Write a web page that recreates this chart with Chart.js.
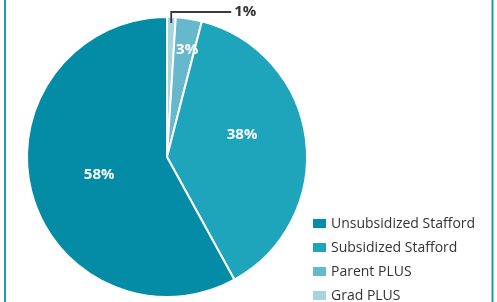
<!DOCTYPE html>
<html>
<head>
<meta charset="utf-8">
<script src="https://cdn.jsdelivr.net/npm/chart.js@4"></script>
<style>
  html, body { margin: 0; padding: 0; background: #fff; }
  #wrap { position: relative; width: 497px; height: 302px; }
</style>
</head>
<body>
<div id="wrap"><canvas id="chart-js-canvas" width="497" height="302"></canvas></div>
<script>
"use strict";

// Loan type shares, clockwise from 12 o'clock
const loanTypes = ["Grad PLUS", "Parent PLUS", "Subsidized Stafford", "Unsubsidized Stafford"];
const shares = [1, 3, 38, 58];
const sliceColors = ["#a6d4e0", "#66b8cc", "#1ea5bc", "#048ca7"];

// legend lists the types the other way round
const legendOrder = [3, 2, 1, 0];

// where each percentage sits inside its slice (radius fraction, angle fraction)
const labelRadius = [null, 0.78, 0.56, 0.5];
const labelAngle = [0.5, 0.65, 0.43, 0.5];

const frameColor = "#1a9ab5";
const textDark = "#333333";

const framePlugin = {
  id: "frame",
  beforeDraw(chart) {
    const ctx = chart.ctx;
    ctx.save();
    ctx.fillStyle = frameColor;
    ctx.fillRect(4, 0, 2, chart.height);
    ctx.fillRect(491.5, 0, 2, chart.height);
    ctx.restore();
  }
};

const labelPlugin = {
  id: "sliceLabels",
  afterDatasetsDraw(chart) {
    const ctx = chart.ctx;
    const arcs = chart.getDatasetMeta(0).data;
    ctx.save();
    ctx.font = "bold 15px 'Open Sans'";
    ctx.textAlign = "center";
    ctx.textBaseline = "middle";

    arcs.forEach((arc, i) => {
      const a = arc.startAngle + (arc.endAngle - arc.startAngle) * labelAngle[i];
      const text = shares[i] + "%";
      if (labelRadius[i] === null) {
        // small slice: leader line going out the top
        const r0 = arc.outerRadius - 6;
        const x0 = arc.x + Math.cos(a) * r0;
        const y0 = arc.y + Math.sin(a) * r0;
        ctx.strokeStyle = "#3a3a3a";
        ctx.lineWidth = 1.8;
        ctx.beginPath();
        ctx.moveTo(x0, y0);
        ctx.lineTo(x0, 12);
        ctx.lineTo(x0 + 60, 12);
        ctx.stroke();
        ctx.fillStyle = textDark;
        ctx.textAlign = "left";
        ctx.fillText(text, x0 + 63, 12);
        ctx.textAlign = "center";
      } else {
        const r = arc.outerRadius * labelRadius[i];
        ctx.fillStyle = "#ffffff";
        ctx.fillText(text, arc.x + Math.cos(a) * r, arc.y + Math.sin(a) * r);
      }
    });
    ctx.restore();
  }
};

const legendPlugin = {
  id: "boxLegend",
  afterDraw(chart) {
    const ctx = chart.ctx;
    ctx.save();
    ctx.font = "14px 'Open Sans'";
    ctx.textBaseline = "middle";
    ctx.textAlign = "left";
    legendOrder.forEach((idx, row) => {
      const y = 224 + row * 24;
      ctx.fillStyle = sliceColors[idx];
      ctx.fillRect(313, y - 5, 13, 9);
      ctx.fillStyle = textDark;
      ctx.fillText(loanTypes[idx], 331, y);
    });
    ctx.restore();
  }
};

const data = {
  labels: loanTypes,
  datasets: [{
    data: shares,
    backgroundColor: sliceColors,
    borderColor: "#ffffff",
    borderWidth: 2,
    hoverOffset: 0
  }]
};

const config = {
  type: "pie",
  data: data,
  options: {
    responsive: false,
    animation: false,
    layout: { padding: { left: 26, right: 189, top: 16, bottom: 4 } },
    plugins: {
      legend: { display: false },
      tooltip: { enabled: false }
    }
  },
  plugins: [framePlugin, labelPlugin, legendPlugin]
};

const canvas = document.querySelector("#chart-js-canvas");
const chart = new Chart(canvas, config);
</script>
</body>
</html>
